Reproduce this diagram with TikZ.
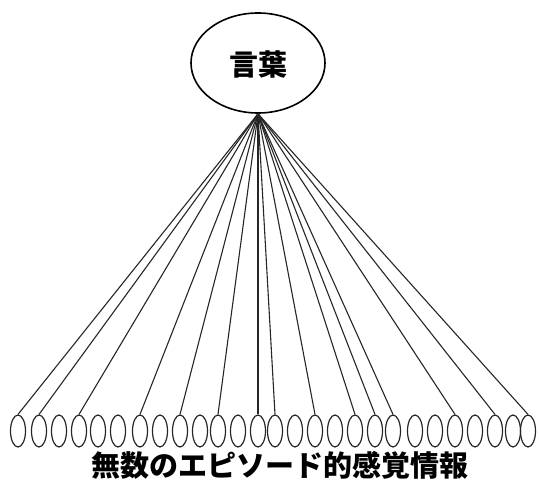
\documentclass[tikz,border=0pt]{standalone}
\usepackage{fontspec}
\newfontfamily\cjk{Noto Sans CJK JP}
\usetikzlibrary{shapes.geometric}
\tikzset{
  bigell/.style={draw=black, line width=1.6pt, ellipse, minimum width=134pt, minimum height=100pt, inner sep=0pt},
  smallell/.style={draw=black!85, line width=1.2pt, ellipse, minimum width=15pt, minimum height=32pt, inner sep=0pt},
  fan/.style={draw=black!85, line width=1.1pt},
  jlabel/.style={font=\cjk\bfseries\fontsize{29}{29}\selectfont, inner sep=0pt}
}
\begin{document}
\begin{tikzpicture}[x=1pt,y=-1pt]
\useasboundingbox (0,0) rectangle (539,481);
\node[bigell] (word) at (258,63) {};
\node[jlabel] (wordt) at (258,64) {言葉};
\foreach \x [count=\i] in {18,39,59,79,98,118,140,160,180,200,218,238,258,275,295,315,335,355,375,393,415,435,455,475,495,513,528}{
  \node[smallell] (e\i) at (\x,431) {};
}
\foreach \i in {1,2,4,7,9,11,13,14,16,18,19,20,23,25,27}{
  \draw[fan] (word.south) -- (e\i.north);
}
\node[jlabel] (info) at (280,465.5) {無数のエピソード的感覚情報};
\end{tikzpicture}
\end{document}
